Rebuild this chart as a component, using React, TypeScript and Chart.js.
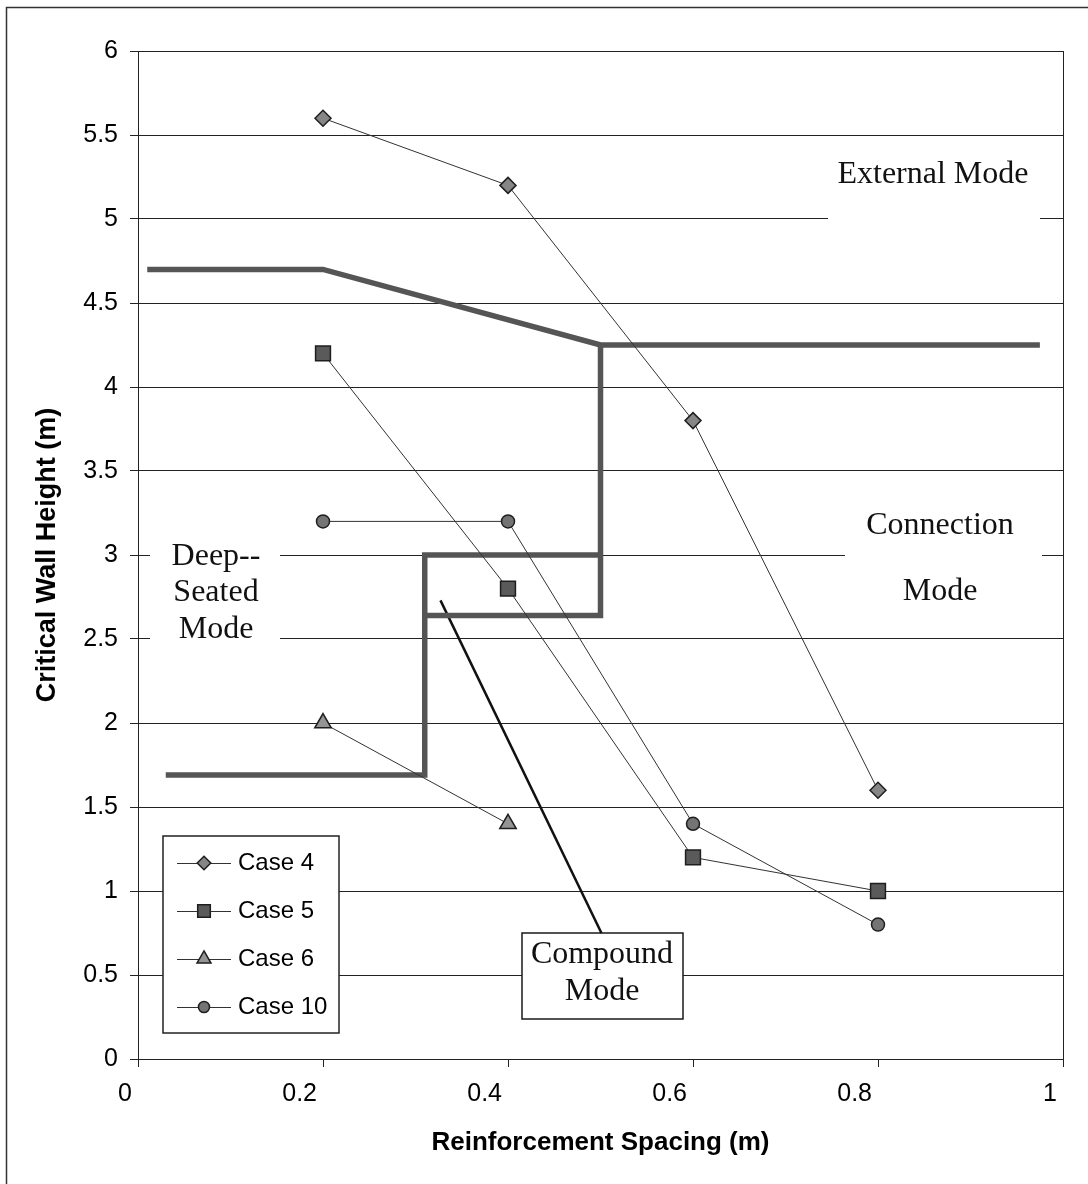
import React, { useEffect, useRef } from "react";
import { Chart, registerables } from "chart.js";
import { drawPoint } from "chart.js/helpers";

Chart.register(...registerables);

// ---- data ----
const spacing = [0.2, 0.4, 0.6, 0.8];
const case4 = [5.6, 5.2, 3.8, 1.6];
const case5 = [4.2, 2.8, 1.2, 1.0];
const case6 = [2.0, 1.4];
const case10 = [3.2, 3.2, 1.4, 0.8];
const seriesLabels = ["Case 4", "Case 5", "Case 6", "Case 10"];

// mode boundary lines
const externalX = [0.01, 0.2, 0.5, 0.975];
const externalY = [4.7, 4.7, 4.25, 4.25];
const connectionX = [0.5, 0.5, 0.31];
const connectionY = [4.25, 2.64, 2.64];
const compoundX = [0.03, 0.31, 0.31, 0.5];
const compoundY = [1.69, 1.69, 3.0, 3.0];
const leaderX = [0.327, 0.501];
const leaderY = [2.73, 0.75];

const xTickValues = [0, 0.2, 0.4, 0.6, 0.8, 1];
const xTickLabels = ["0", "0.2", "0.4", "0.6", "0.8", "1"];
const yTickValues = [0, 0.5, 1, 1.5, 2, 2.5, 3, 3.5, 4, 4.5, 5, 5.5, 6];
const yTickLabels = ["0", "0.5", "1", "1.5", "2", "2.5", "3", "3.5", "4", "4.5", "5", "5.5", "6"];

const xTitle = "Reinforcement Spacing (m)";
const yTitle = "Critical Wall Height (m)";

// ---- layout / style constants ----
const W = 1088;
const H = 1184;
const SANS = '"Liberation Sans", Arial, sans-serif';
const SERIF = '"Liberation Serif", "Times New Roman", serif';

const modeTexts = [
  { lines: ["External Mode"], x: 933, ys: [175] },
  { lines: ["Connection", "Mode"], x: 940, ys: [526, 592] },
  { lines: ["Deep--", "Seated", "Mode"], x: 216, ys: [557, 593, 630] },
  { lines: ["Compound", "Mode"], x: 602, ys: [955, 992] },
];
const masks = [
  { x0: 828, x1: 1040, y0: 150, y1: 232 },
  { x0: 845, x1: 1042, y0: 495, y1: 620 },
  { x0: 150, x1: 280, y0: 535, y1: 650 },
];
const compoundBox = { x0: 522, x1: 683, y0: 933, y1: 1019 };
const legendBox = { x: 163, y: 836, w: 176, h: 197, rowY0: 863, rowStep: 48, lineX0: 177, lineX1: 231, textX: 238 };

const zip = (xs: number[], ys: number[]) => xs.map((x, i) => ({ x, y: ys[i] }));

const seriesStyle = [
  { pointStyle: "rectRot", radius: 8, fill: "#868686" },
  { pointStyle: "rect", radius: 10.5, fill: "#5a5a5a" },
  { pointStyle: "triangle", radius: 9.5, fill: "#949494" },
  { pointStyle: "circle", radius: 6.5, fill: "#747474" },
];
const seriesData = [case4, case5, case6, case10];

const boundaryColor = "#555555";
const lineColor = "#333333";

export default function App() {
  const ref = useRef<HTMLCanvasElement | null>(null);

  useEffect(() => {
    document.body.style.margin = "0";
    const canvas = ref.current;
    if (!canvas) return;

    const seriesDatasets = seriesData.map((vals, i) => ({
      label: seriesLabels[i],
      data: zip(spacing.slice(0, vals.length), vals),
      showLine: true,
      borderColor: lineColor,
      borderWidth: 1,
      backgroundColor: seriesStyle[i].fill,
      pointStyle: seriesStyle[i].pointStyle,
      pointRadius: seriesStyle[i].radius,
      pointBackgroundColor: seriesStyle[i].fill,
      pointBorderColor: "#1e1e1e",
      pointBorderWidth: 1.5,
      isSeries: true,
    }));

    const boundary = (label: string, xs: number[], ys: number[], color: string, width: number) => ({
      label,
      data: zip(xs, ys),
      showLine: true,
      borderColor: color,
      borderWidth: width,
      pointRadius: 0,
      pointHoverRadius: 0,
      borderJoinStyle: "miter" as const,
      borderCapStyle: "butt" as const,
      isSeries: false,
    });

    const annotationPlugin = {
      id: "annotations",
      beforeDraw(chart: any) {
        const ctx = chart.ctx;
        ctx.save();
        ctx.fillStyle = "#ffffff";
        ctx.fillRect(0, 0, chart.width, chart.height);
        ctx.strokeStyle = "#333";
        ctx.lineWidth = 1.5;
        ctx.beginPath();
        ctx.moveTo(6.5, H);
        ctx.lineTo(6.5, 7.5);
        ctx.lineTo(W, 7.5);
        ctx.stroke();
        ctx.restore();
      },
      beforeDatasetsDraw(chart: any) {
        const ctx = chart.ctx;
        const a = chart.chartArea;
        ctx.save();
        ctx.strokeStyle = "#222";
        ctx.lineWidth = 1;
        ctx.strokeRect(Math.round(a.left) + 0.5, Math.round(a.top) + 0.5, Math.round(a.right - a.left), Math.round(a.bottom - a.top));
        ctx.fillStyle = "#ffffff";
        masks.forEach((m) => ctx.fillRect(m.x0, m.y0, m.x1 - m.x0, m.y1 - m.y0));
        ctx.fillRect(compoundBox.x0, compoundBox.y0, compoundBox.x1 - compoundBox.x0, compoundBox.y1 - compoundBox.y0);
        ctx.strokeStyle = "#1a1a1a";
        ctx.lineWidth = 1.5;
        ctx.strokeRect(compoundBox.x0, compoundBox.y0, compoundBox.x1 - compoundBox.x0, compoundBox.y1 - compoundBox.y0);
        ctx.fillStyle = "#111";
        ctx.font = `32px ${SERIF}`;
        ctx.textAlign = "center";
        ctx.textBaseline = "middle";
        modeTexts.forEach((t) => t.lines.forEach((line, i) => ctx.fillText(line, t.x, t.ys[i])));
        ctx.restore();
      },
      afterDatasetsDraw(chart: any) {
        const ctx = chart.ctx;
        const L = legendBox;
        ctx.save();
        ctx.fillStyle = "#ffffff";
        ctx.fillRect(L.x, L.y, L.w, L.h);
        ctx.strokeStyle = "#222";
        ctx.lineWidth = 1.5;
        ctx.strokeRect(L.x, L.y, L.w, L.h);
        const series = chart.data.datasets.filter((d: any) => d.isSeries);
        series.forEach((ds: any, i: number) => {
          const y = L.rowY0 + i * L.rowStep;
          ctx.strokeStyle = ds.borderColor;
          ctx.lineWidth = ds.borderWidth;
          ctx.beginPath();
          ctx.moveTo(L.lineX0, y + 0.5);
          ctx.lineTo(L.lineX1, y + 0.5);
          ctx.stroke();
          ctx.fillStyle = ds.pointBackgroundColor;
          ctx.strokeStyle = ds.pointBorderColor;
          ctx.lineWidth = ds.pointBorderWidth;
          drawPoint(ctx, { pointStyle: ds.pointStyle, radius: ds.pointRadius * 0.85, rotation: 0, borderWidth: ds.pointBorderWidth } as any, (L.lineX0 + L.lineX1) / 2, y);
          ctx.fillStyle = "#000";
          ctx.font = `24px ${SANS}`;
          ctx.textAlign = "left";
          ctx.textBaseline = "middle";
          ctx.fillText(ds.label, L.textX, y);
        });
        ctx.restore();
      },
    };

    const chart = new Chart(canvas, {
      type: "scatter",
      data: {
        datasets: [
          ...seriesDatasets,
          boundary("external", externalX, externalY, boundaryColor, 5.5),
          boundary("connection", connectionX, connectionY, boundaryColor, 5.5),
          boundary("compound", compoundX, compoundY, boundaryColor, 5.5),
          boundary("leader", leaderX, leaderY, "#111111", 2.5),
        ] as any,
      },
      options: {
        animation: false,
        responsive: false,
        devicePixelRatio: 1,
        layout: { padding: { top: 51, right: 25, left: 0, bottom: 0 } },
        plugins: {
          legend: { display: false },
          tooltip: { enabled: false },
        },
        events: [],
        scales: {
          x: {
            type: "linear",
            min: 0,
            max: 1,
            afterBuildTicks: (s: any) => {
              s.ticks = xTickValues.map((v) => ({ value: v }));
            },
            afterFit: (s: any) => {
              s.height = H - 1059;
            },
            ticks: {
              callback: (_v: any, i: number) => xTickLabels[i],
              font: { family: SANS, size: 25 },
              color: "#000",
              align: "end",
              labelOffset: -6,
              padding: 12,
              maxRotation: 0,
              autoSkip: false,
            },
            grid: {
              display: true,
              drawOnChartArea: false,
              drawTicks: true,
              tickLength: 8,
              color: "#222",
              lineWidth: 1,
            },
            border: { display: true, color: "#222", width: 1 },
            title: {
              display: true,
              text: xTitle,
              font: { family: SANS, size: 26, weight: "bold" },
              color: "#000",
              padding: { top: 0, bottom: 26 },
            },
          },
          y: {
            type: "linear",
            min: 0,
            max: 6,
            afterBuildTicks: (s: any) => {
              s.ticks = yTickValues.map((v) => ({ value: v }));
            },
            afterFit: (s: any) => {
              s.width = 138;
            },
            ticks: {
              callback: (_v: any, i: number) => yTickLabels[i],
              font: { family: SANS, size: 25 },
              color: "#000",
              padding: 12,
              autoSkip: false,
            },
            grid: {
              display: true,
              drawOnChartArea: true,
              drawTicks: true,
              tickLength: 8,
              color: "#222",
              lineWidth: 1,
            },
            border: { display: true, color: "#222", width: 1 },
            title: {
              display: true,
              text: yTitle,
              font: { family: SANS, size: 27, weight: "bold" },
              color: "#000",
              padding: { top: 31, bottom: 0 },
            },
          },
        },
      },
      plugins: [annotationPlugin],
    } as any);

    return () => chart.destroy();
  }, []);

  return (
    <div style={{ width: W, height: H }}>
      <canvas ref={ref} width={W} height={H} style={{ display: "block", width: W, height: H }} />
    </div>
  );
}
